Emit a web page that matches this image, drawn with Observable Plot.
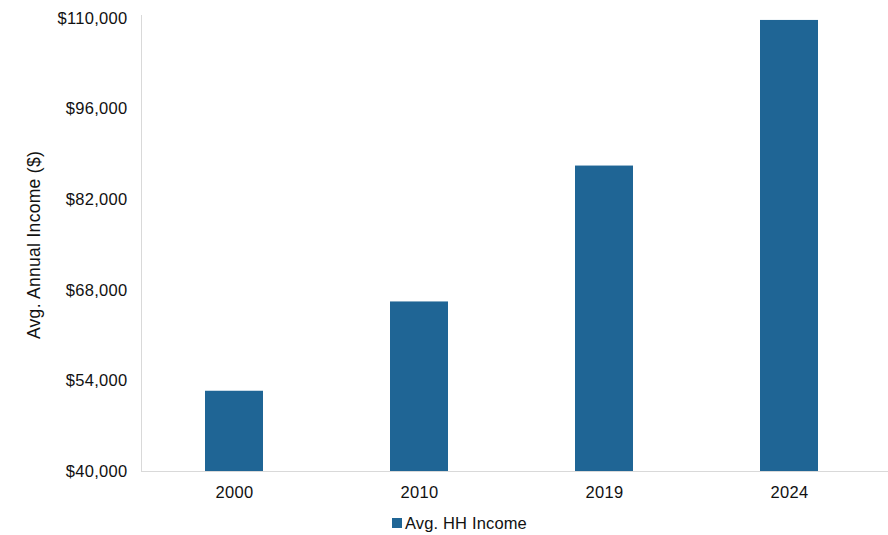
<!DOCTYPE html>
<html>
<head>
<meta charset="utf-8">
<script src="https://cdn.jsdelivr.net/npm/d3@7"></script>
<script src="https://cdn.jsdelivr.net/npm/@observablehq/plot@0.6"></script>
<style>
  body { margin: 0; background: #fff; font-family: "Liberation Sans", Arial, Helvetica, sans-serif; }
  #chart { width: 888px; }
  .legend { position: relative; height: 30px; font-size: 16.5px; color: #111; }
  .legend .item { position: absolute; left: 392px; top: 9px; display: flex; align-items: center; line-height: 18px; letter-spacing: 0.15px; }
  .legend .sw { width: 10px; height: 10px; background: #1f6595; margin-right: 3px; }
</style>
</head>
<body>
<div id="chart"></div>
<script>
const years = ["2000", "2010", "2019", "2024"];
const incomes = [52400, 66200, 87200, 109700];
const yTicks = [40000, 54000, 68000, 82000, 96000, 110000];
const seriesName = "Avg. HH Income";
const yLabel = "Avg. Annual Income ($)";
const barColor = "#1f6595";

const data = years.map((y, i) => ({year: y, income: incomes[i]}));

const plot = Plot.plot({
  width: 888,
  height: 505,
  marginLeft: 141,
  marginRight: 7,
  marginTop: 18,
  marginBottom: 34,
  style: {fontFamily: '"Liberation Sans", Arial, Helvetica, sans-serif', fontSize: "16.5px", color: "#111", background: "#fff", letterSpacing: "0.3px"},
  x: {domain: years, paddingInner: 0.687, paddingOuter: 0.3435, align: 0.5},
  y: {domain: [40000, 110000]},
  marks: [
    Plot.barY(data, {x: "year", y1: 40000, y2: "income", fill: barColor, clip: true}),
    Plot.frame({anchor: "left", stroke: "#d9d9d9", insetTop: -3}),
    Plot.ruleY([40000], {stroke: "#d9d9d9", insetRight: -7}),
    Plot.axisX({tickSize: 0, tickPadding: 15, label: null, fontSize: 16.5}),
    Plot.axisY({ticks: yTicks, tickSize: 0, tickPadding: 14, tickFormat: d3.format("$,"), fontSize: 16.5,
      label: yLabel, labelAnchor: "center", labelArrow: "none", labelOffset: 114})
  ]
});
plot.querySelectorAll("g[aria-label='y-axis label'] text").forEach(t => t.style.fontSize = "17.5px");
document.getElementById("chart").appendChild(plot);

const legend = document.createElement("div");
legend.className = "legend";
legend.innerHTML = `<div class="item"><div class="sw"></div><span>${seriesName}</span></div>`;
document.getElementById("chart").appendChild(legend);
</script>
</body>
</html>
